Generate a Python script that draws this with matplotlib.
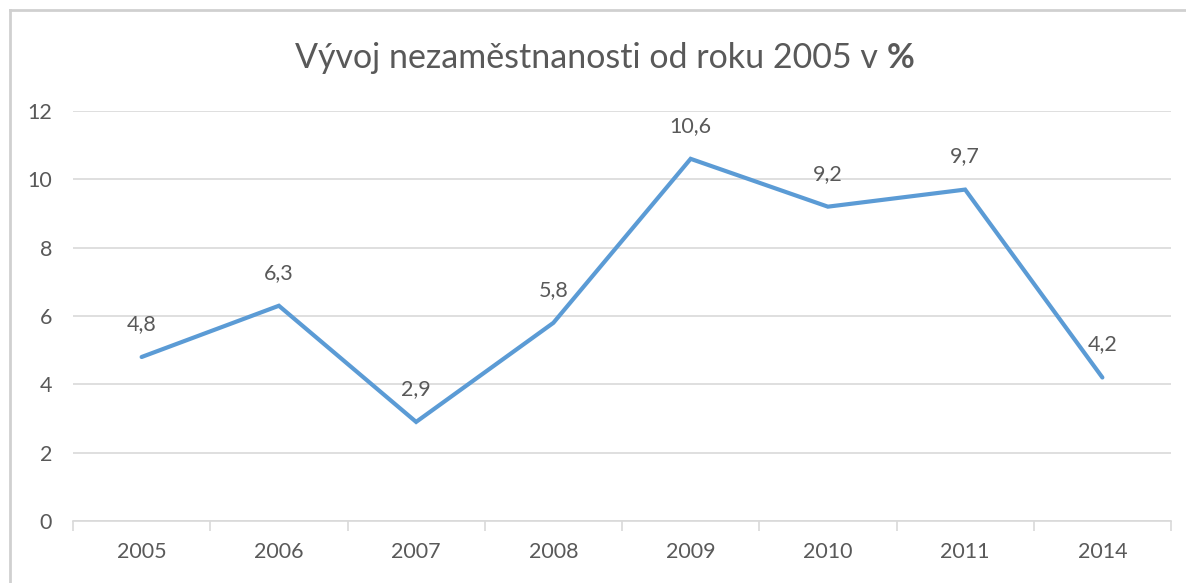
import matplotlib
matplotlib.use("Agg")
import matplotlib.pyplot as plt
from matplotlib.lines import Line2D
from matplotlib.ticker import FixedLocator

years = ["2005", "2006", "2007", "2008", "2009", "2010", "2011", "2014"]
values = [4.8, 6.3, 2.9, 5.8, 10.6, 9.2, 9.7, 4.2]
labels = ["4,8", "6,3", "2,9", "5,8", "10,6", "9,2", "9,7", "4,2"]
yticks = [0, 2, 4, 6, 8, 10, 12]

plt.rcParams['font.family'] = ['Lato', 'DejaVu Sans']
txt = '#595959'
grid = '#D9D9D9'

fig = plt.figure(figsize=(11.86, 5.83), dpi=100)
W, H = 1186, 583
ax = fig.add_axes([73 / W, (H - 521) / H, (1171 - 73) / W, (521 - 111) / H])

x = list(range(len(years)))
ax.plot(x, values, color='#5B9BD5', linewidth=3.0, solid_capstyle='round',
        solid_joinstyle='miter', zorder=3)
for xi, v, lab in zip(x, values, labels):
    ax.annotate(lab, (xi, v), xytext=(0, 33), textcoords='offset pixels',
                ha='center', va='center', fontsize=15.5, color=txt, zorder=4)

ax.set_xlim(-0.5, len(years) - 0.5)
ax.set_ylim(0, 12)
ax.set_yticks(yticks)
ax.set_yticklabels([str(t) for t in yticks])
ax.set_xticks(x)
ax.set_xticklabels(years)
ax.xaxis.set_minor_locator(FixedLocator([i - 0.5 for i in range(len(years) + 1)]))

ax.grid(axis='y', color=grid, linewidth=1.2, zorder=0)
for s in ['top', 'right', 'left']:
    ax.spines[s].set_visible(False)
ax.spines['bottom'].set_color(grid)
ax.spines['bottom'].set_linewidth(1.2)

ax.tick_params(axis='y', length=0, pad=15, labelsize=15.5, labelcolor=txt)
ax.tick_params(axis='x', which='major', length=0, pad=15, labelsize=15.5, labelcolor=txt)
ax.tick_params(axis='x', which='minor', length=7, width=1.2, color=grid)

# title composed: normal part + bold percent
ty = (H - 58) / H
main = fig.text(0, ty, "Vývoj nezaměstnanosti od roku 2005 v ", ha='left',
                va='center', fontsize=24.5, color=txt)
pct = fig.text(0, ty, "%", ha='left', va='center', fontsize=24.5,
               color=txt, fontweight='bold')
renderer = fig.canvas.get_renderer()
bb = main.get_window_extent(renderer)
bb2 = pct.get_window_extent(renderer)
total = bb.width + bb2.width
start = (605 - total / 2) / W
main.set_position((start, ty))
pct.set_position((start + bb.width / W, ty))

fig.add_artist(Line2D([10 / W, 10 / W], [0, (H - 10) / H], color='#D0D0D0', linewidth=2))
fig.add_artist(Line2D([10 / W, 1], [(H - 10) / H, (H - 10) / H], color='#D0D0D0', linewidth=2))

fig.savefig("out.png", dpi=100)
